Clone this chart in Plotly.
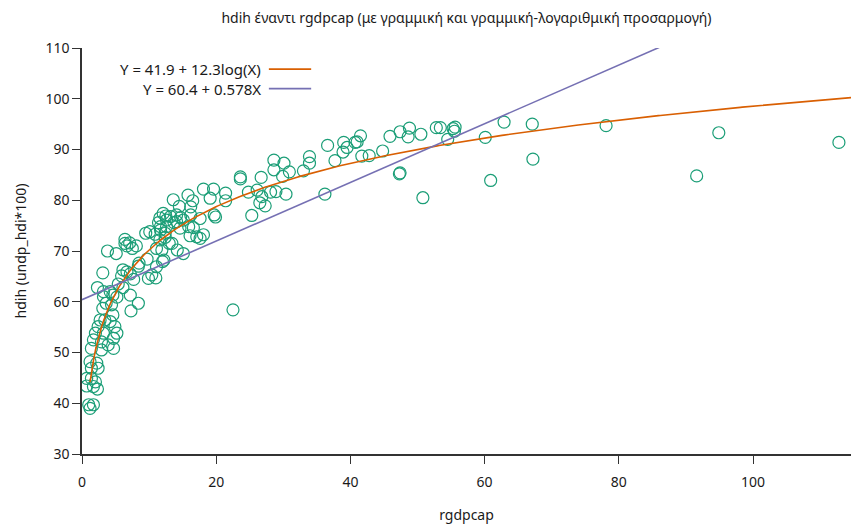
import numpy as np
import plotly.graph_objects as go

# rgdpcap (x) and hdih = undp_hdi*100 (y) per country
rgdpcap = [
    112.8, 94.9, 91.6, 78.1, 67.1, 67.2, 62.9, 60.9, 60.1, 55.6, 55.5, 55.3,
    54.5, 53.4, 52.8, 50.8, 50.5, 48.8, 48.6, 47.4, 47.4, 47.3, 45.9, 44.8,
    42.8, 41.7, 41.5, 41.0, 40.7, 39.5, 39.0, 38.9, 37.7, 36.6, 36.2, 33.9,
    33.9, 33.0, 30.9, 30.1, 30.4, 29.9, 28.6, 28.6, 28.9, 28.1, 27.3, 26.8,
    26.5, 26.1, 24.8, 25.3, 23.6, 23.6, 26.7, 22.5, 21.4, 21.4, 19.6, 19.1,
    18.1, 19.7, 19.9, 18.1, 17.6, 17.6, 15.8, 16.5, 13.6, 14.5, 16.2, 16.2,
    14.7, 14.1, 12.6, 15.9, 16.6, 17.1, 16.1, 11.7, 12.4, 13.4, 14.2, 15.1,
    12.2, 12.1, 12.5, 11.6, 13.2, 14.1, 15.1, 11.4, 11.7, 12.6, 13.7, 14.6,
    9.5, 10.1, 10.9, 11.6, 12.4, 13.0, 11.1, 11.9, 6.4, 7.1, 6.4, 6.7,
    8.1, 7.5, 3.8, 5.1, 9.7, 8.4, 11.1, 12.0, 10.4, 11.0, 9.9, 8.5,
    6.7, 6.1, 5.9, 7.2, 7.7, 3.1, 5.4, 6.1, 2.3, 3.2, 4.2, 7.2,
    5.2, 4.6, 8.4, 7.3, 3.2, 3.6, 3.1, 4.4, 4.6, 2.7, 3.4, 4.2,
    2.4, 4.9, 5.2, 4.7, 2.0, 3.2, 1.7, 2.9, 3.9, 4.7, 1.4, 2.9,
    1.2, 2.2, 1.4, 2.4, 0.7, 1.4, 2.0, 1.7, 2.3, 0.7, 1.0, 1.7, 1.2,
]
hdih = [
    91.4, 93.3, 84.8, 94.7, 95.0, 88.1, 95.4, 83.9, 92.4, 94.4, 93.6, 94.1,
    92.0, 94.3, 94.3, 80.5, 93.0, 94.2, 92.5, 93.5, 85.4, 85.2, 92.6, 89.7,
    88.8, 88.7, 92.7, 91.5, 91.4, 90.4, 91.4, 89.5, 87.8, 90.8, 81.2, 88.6,
    87.3, 85.8, 85.6, 87.3, 81.2, 84.7, 87.9, 86.0, 81.7, 81.6, 78.9, 80.7,
    79.5, 82.0, 81.6, 77.0, 84.6, 84.2, 84.5, 58.4, 81.4, 79.9, 82.2, 80.4,
    82.2, 77.1, 76.7, 73.2, 72.5, 76.4, 81.0, 79.9, 80.1, 78.8, 78.7, 77.1,
    76.6, 75.8, 76.1, 74.8, 74.6, 72.8, 73.0, 74.1, 73.5, 71.5, 70.2, 69.5,
    68.2, 77.4, 76.9, 76.5, 76.8, 77.1, 76.1, 75.6, 74.8, 74.8, 75.6, 74.5,
    73.5, 73.8, 73.3, 72.2, 72.7, 71.5, 70.5, 70.2, 72.3, 71.6, 71.5, 71.0,
    71.0, 70.5, 70.0, 69.5, 68.4, 67.0, 66.9, 67.9, 65.3, 64.7, 64.6, 67.6,
    65.9, 66.3, 65.1, 65.5, 64.4, 65.7, 63.5, 62.8, 62.8, 62.0, 62.0, 61.3,
    60.9, 61.3, 59.7, 58.2, 61.0, 59.7, 58.7, 59.4, 57.4, 56.4, 56.4, 56.1,
    55.1, 55.1, 53.8, 52.8, 53.8, 53.8, 52.5, 52.1, 51.5, 50.8, 50.8, 50.5,
    48.2, 47.9, 46.9, 46.9, 44.9, 44.9, 44.2, 43.3, 42.8, 43.4, 39.7, 39.7, 39.0,
]

# fitted coefficients
log_a, log_b = 41.9, 12.3
lin_a, lin_b = 60.4, 0.578
log_label = "Y = 41.9 + 12.3log(X)"
lin_label = "Y = 60.4 + 0.578X"

x_max = 114.6
x_ticks = [0, 20, 40, 60, 80, 100]
y_ticks = [30, 40, 50, 60, 70, 80, 90, 100, 110]

GREEN = "#1b9e77"
ORANGE = "#d95f02"
PURPLE = "#7570b3"
FONT = "Noto Sans"
TEXT = "#1a1a1a"

xs_log = np.linspace(1.2, x_max, 400)
xs_lin = np.linspace(0, x_max, 50)

fig = go.Figure()
fig.add_trace(go.Scatter(
    x=rgdpcap, y=hdih, mode="markers",
    marker=dict(symbol="circle-open", size=12, color=GREEN, line=dict(width=1.2, color=GREEN)),
    showlegend=False,
))
fig.add_trace(go.Scatter(
    x=xs_log, y=log_a + log_b * np.log(xs_log), mode="lines",
    line=dict(color=ORANGE, width=1.6), showlegend=False,
))
fig.add_trace(go.Scatter(
    x=xs_lin, y=lin_a + lin_b * xs_lin, mode="lines",
    line=dict(color=PURPLE, width=1.6), showlegend=False,
))

# legend: right-aligned labels with line keys to their right
legend_rows = [(log_label, ORANGE, 0.948), (lin_label, PURPLE, 0.900)]
for text, color, yy in legend_rows:
    fig.add_annotation(
        xref="paper", yref="paper", x=0.235, y=yy, xanchor="right", yanchor="middle",
        text=text, showarrow=False, font=dict(family=FONT, size=15, color=TEXT),
    )
    fig.add_shape(
        type="line", xref="paper", yref="paper", x0=0.243, x1=0.298, y0=yy, y1=yy,
        line=dict(color=color, width=1.6),
    )

fig.update_layout(
    width=851, height=524,
    margin=dict(l=82, r=0, t=48, b=70),
    paper_bgcolor="white", plot_bgcolor="white",
    font=dict(family=FONT, size=14, color=TEXT),
    title=dict(
        text="hdih έναντι rgdpcap (με γραμμική και γραμμική-λογαριθμική προσαρμογή)",
        x=0.5, xref="paper", y=0.965, yanchor="middle",
        font=dict(family=FONT, size=14, color=TEXT),
    ),
    xaxis=dict(
        range=[0, x_max], tickvals=x_ticks, ticks="outside", ticklen=8,
        tickcolor="#333", showline=True, linecolor="#333", linewidth=2,
        showgrid=False, zeroline=False, ticklabelstandoff=6,
        tickfont=dict(family=FONT, size=14, color=TEXT),
        title=dict(text="rgdpcap", standoff=20, font=dict(family=FONT, size=14, color=TEXT)),
    ),
    yaxis=dict(
        range=[30, 110], tickvals=y_ticks, ticks="outside", ticklen=8,
        tickcolor="#333", showline=True, linecolor="#333", linewidth=1.5,
        showgrid=False, zeroline=False,
        tickfont=dict(family=FONT, size=14, color=TEXT),
        title=dict(text="hdih (undp_hdi*100)", standoff=16, font=dict(family=FONT, size=14, color=TEXT)),
    ),
)

fig.write_html("out.html")
